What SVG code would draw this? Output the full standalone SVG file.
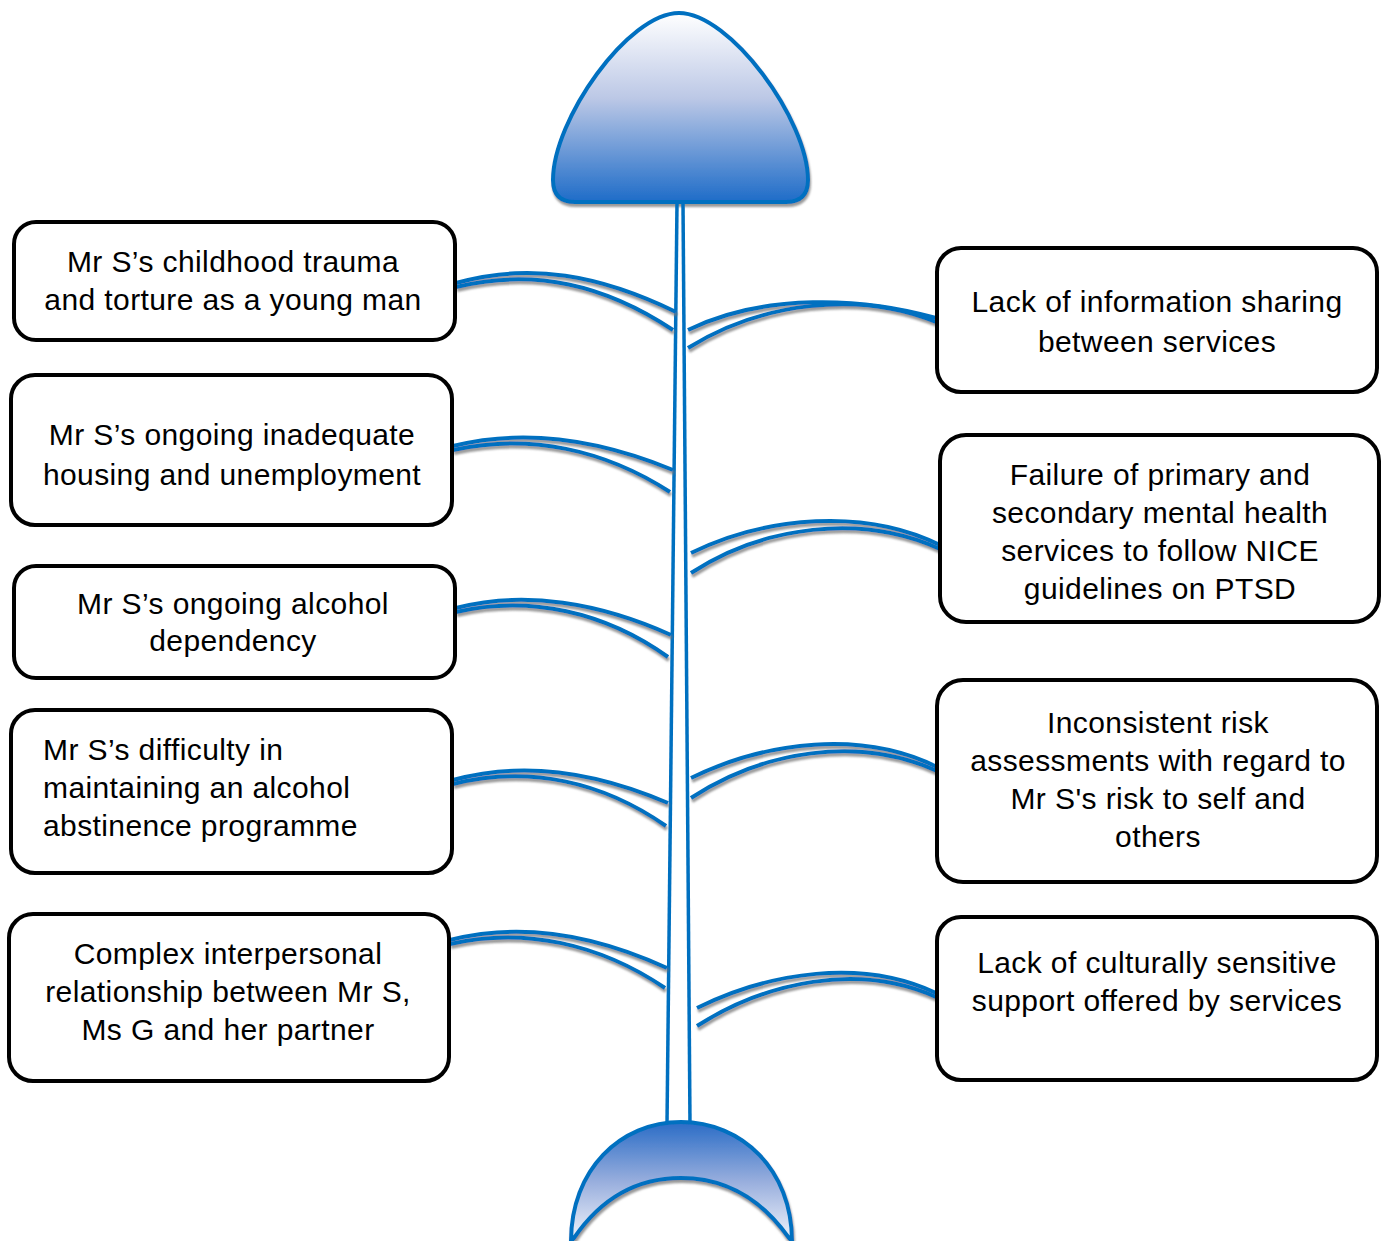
<svg xmlns="http://www.w3.org/2000/svg" width="1381" height="1241" viewBox="0 0 1381 1241">
<defs>
<linearGradient id="headGrad" x1="0" y1="0" x2="0" y2="1">
<stop offset="0" stop-color="#FFFFFF"/>
<stop offset="0.45" stop-color="#BCC8E6"/>
<stop offset="1" stop-color="#1E6CC8"/>
</linearGradient>
<linearGradient id="tailGrad" x1="0" y1="0" x2="0" y2="1">
<stop offset="0" stop-color="#2A6CC6"/>
<stop offset="0.5" stop-color="#98AEDD"/>
<stop offset="1" stop-color="#F2F5FB"/>
</linearGradient>
<filter id="shadow" x="-10%" y="-20%" width="120%" height="150%">
<feDropShadow dx="1" dy="3" stdDeviation="1" flood-color="#777777" flood-opacity="0.75"/>
</filter>
<style>
.box{fill:#FFFFFF;stroke:#000000;stroke-width:4}
.bone{fill:none;stroke:#0070C0;stroke-width:4;stroke-linecap:butt}
.spine{fill:none;stroke:#0070C0;stroke-width:3.5}
.lbl{font-family:"Liberation Sans",Arial,sans-serif;font-size:30px;letter-spacing:0.4px;fill:#000000;text-anchor:middle}
.lblL{font-family:"Liberation Sans",Arial,sans-serif;font-size:30px;letter-spacing:0.4px;fill:#000000;text-anchor:start}
</style>
</defs>

<g id="head" filter="url(#shadow)">
<path d="M679,13 C730,13 808,120 808,180 Q808,202 786,202 L575,202 Q553,202 553,180 C553,120 628,13 679,13 Z" fill="url(#headGrad)" stroke="#0070C0" stroke-width="4"/>
</g>

<g id="tail" filter="url(#shadow)">
<path d="M571,1241 C571,1170 620,1122 681,1122 C742,1122 792,1170 792,1241 L789,1238 C762,1200 726,1178 681,1178 C636,1178 600,1200 574,1238 Z" fill="url(#tailGrad)" stroke="#0070C0" stroke-width="4"/>
</g>

<g id="connectors">
<g id="spine">
<path class="spine" d="M677,203 L667,1124"/>
<path class="spine" d="M683,203 L690,1124"/>
</g>
<g id="bones" filter="url(#shadow)">
<path class="bone" d="M456,283 C530,262 600,275 676,312"/>
<path class="bone" d="M456,287 C535,268 605,285 673,330"/>
<path class="bone" d="M453,446 C525,428 600,440 673,470"/>
<path class="bone" d="M453,450 C530,433 605,450 670,492"/>
<path class="bone" d="M456,608 C525,590 600,603 671,635"/>
<path class="bone" d="M456,612 C530,595 605,612 668,657"/>
<path class="bone" d="M453,780 C525,760 598,773 668,803"/>
<path class="bone" d="M453,784 C530,765 603,782 666,826"/>
<path class="bone" d="M450,940 C520,922 595,935 667,968"/>
<path class="bone" d="M450,944 C525,927 600,944 665,988"/>
<path class="bone" d="M688,330 C764,293 862,297 936,318"/>
<path class="bone" d="M688,348 C760,303 858,290 936,322"/>
<path class="bone" d="M691,553 C767,516 865,508 940,545"/>
<path class="bone" d="M691,573 C763,526 861,513 940,549"/>
<path class="bone" d="M691,778 C767,741 862,730 937,767"/>
<path class="bone" d="M691,798 C763,751 858,735 937,771"/>
<path class="bone" d="M697,1008 C770,972 862,958 936,993"/>
<path class="bone" d="M697,1026 C766,982 858,962 936,997"/>
</g>
</g>

<g id="node-l1">
<rect class="box" x="14" y="222" width="441" height="118" rx="22"/>
<text class="lbl" x="233" y="272">Mr S’s childhood trauma</text>
<text class="lbl" x="233" y="310">and torture as a young man</text>
</g>
<g id="node-l2">
<rect class="box" x="11" y="375" width="441" height="150" rx="24"/>
<text class="lbl" x="232" y="445">Mr S’s ongoing inadequate</text>
<text class="lbl" x="232" y="485">housing and unemployment</text>
</g>
<g id="node-l3">
<rect class="box" x="14" y="566" width="441" height="112" rx="22"/>
<text class="lbl" x="233" y="614">Mr S’s ongoing alcohol</text>
<text class="lbl" x="233" y="651">dependency</text>
</g>
<g id="node-l4">
<rect class="box" x="11" y="710" width="441" height="163" rx="24"/>
<text class="lblL" x="43" y="760">Mr S’s difficulty in</text>
<text class="lblL" x="43" y="798">maintaining an alcohol</text>
<text class="lblL" x="43" y="836">abstinence programme</text>
</g>
<g id="node-l5">
<rect class="box" x="9" y="914" width="440" height="167" rx="24"/>
<text class="lbl" x="228" y="964">Complex interpersonal</text>
<text class="lbl" x="228" y="1002">relationship between Mr S,</text>
<text class="lbl" x="228" y="1040">Ms G and her partner</text>
</g>

<g id="node-r1">
<rect class="box" x="937" y="248" width="440" height="144" rx="24"/>
<text class="lbl" x="1157" y="312">Lack of information sharing</text>
<text class="lbl" x="1157" y="352">between services</text>
</g>
<g id="node-r2">
<rect class="box" x="940" y="435" width="439" height="187" rx="26"/>
<text class="lbl" x="1160" y="485">Failure of primary and</text>
<text class="lbl" x="1160" y="523">secondary mental health</text>
<text class="lbl" x="1160" y="561">services to follow NICE</text>
<text class="lbl" x="1160" y="599">guidelines on PTSD</text>
</g>
<g id="node-r3">
<rect class="box" x="937" y="680" width="440" height="202" rx="26"/>
<text class="lbl" x="1158" y="733">Inconsistent risk</text>
<text class="lbl" x="1158" y="771">assessments with regard to</text>
<text class="lbl" x="1158" y="809">Mr S's risk to self and</text>
<text class="lbl" x="1158" y="847">others</text>
</g>
<g id="node-r4">
<rect class="box" x="937" y="917" width="440" height="163" rx="24"/>
<text class="lbl" x="1157" y="973">Lack of culturally sensitive</text>
<text class="lbl" x="1157" y="1011">support offered by services</text>
</g>
</svg>
